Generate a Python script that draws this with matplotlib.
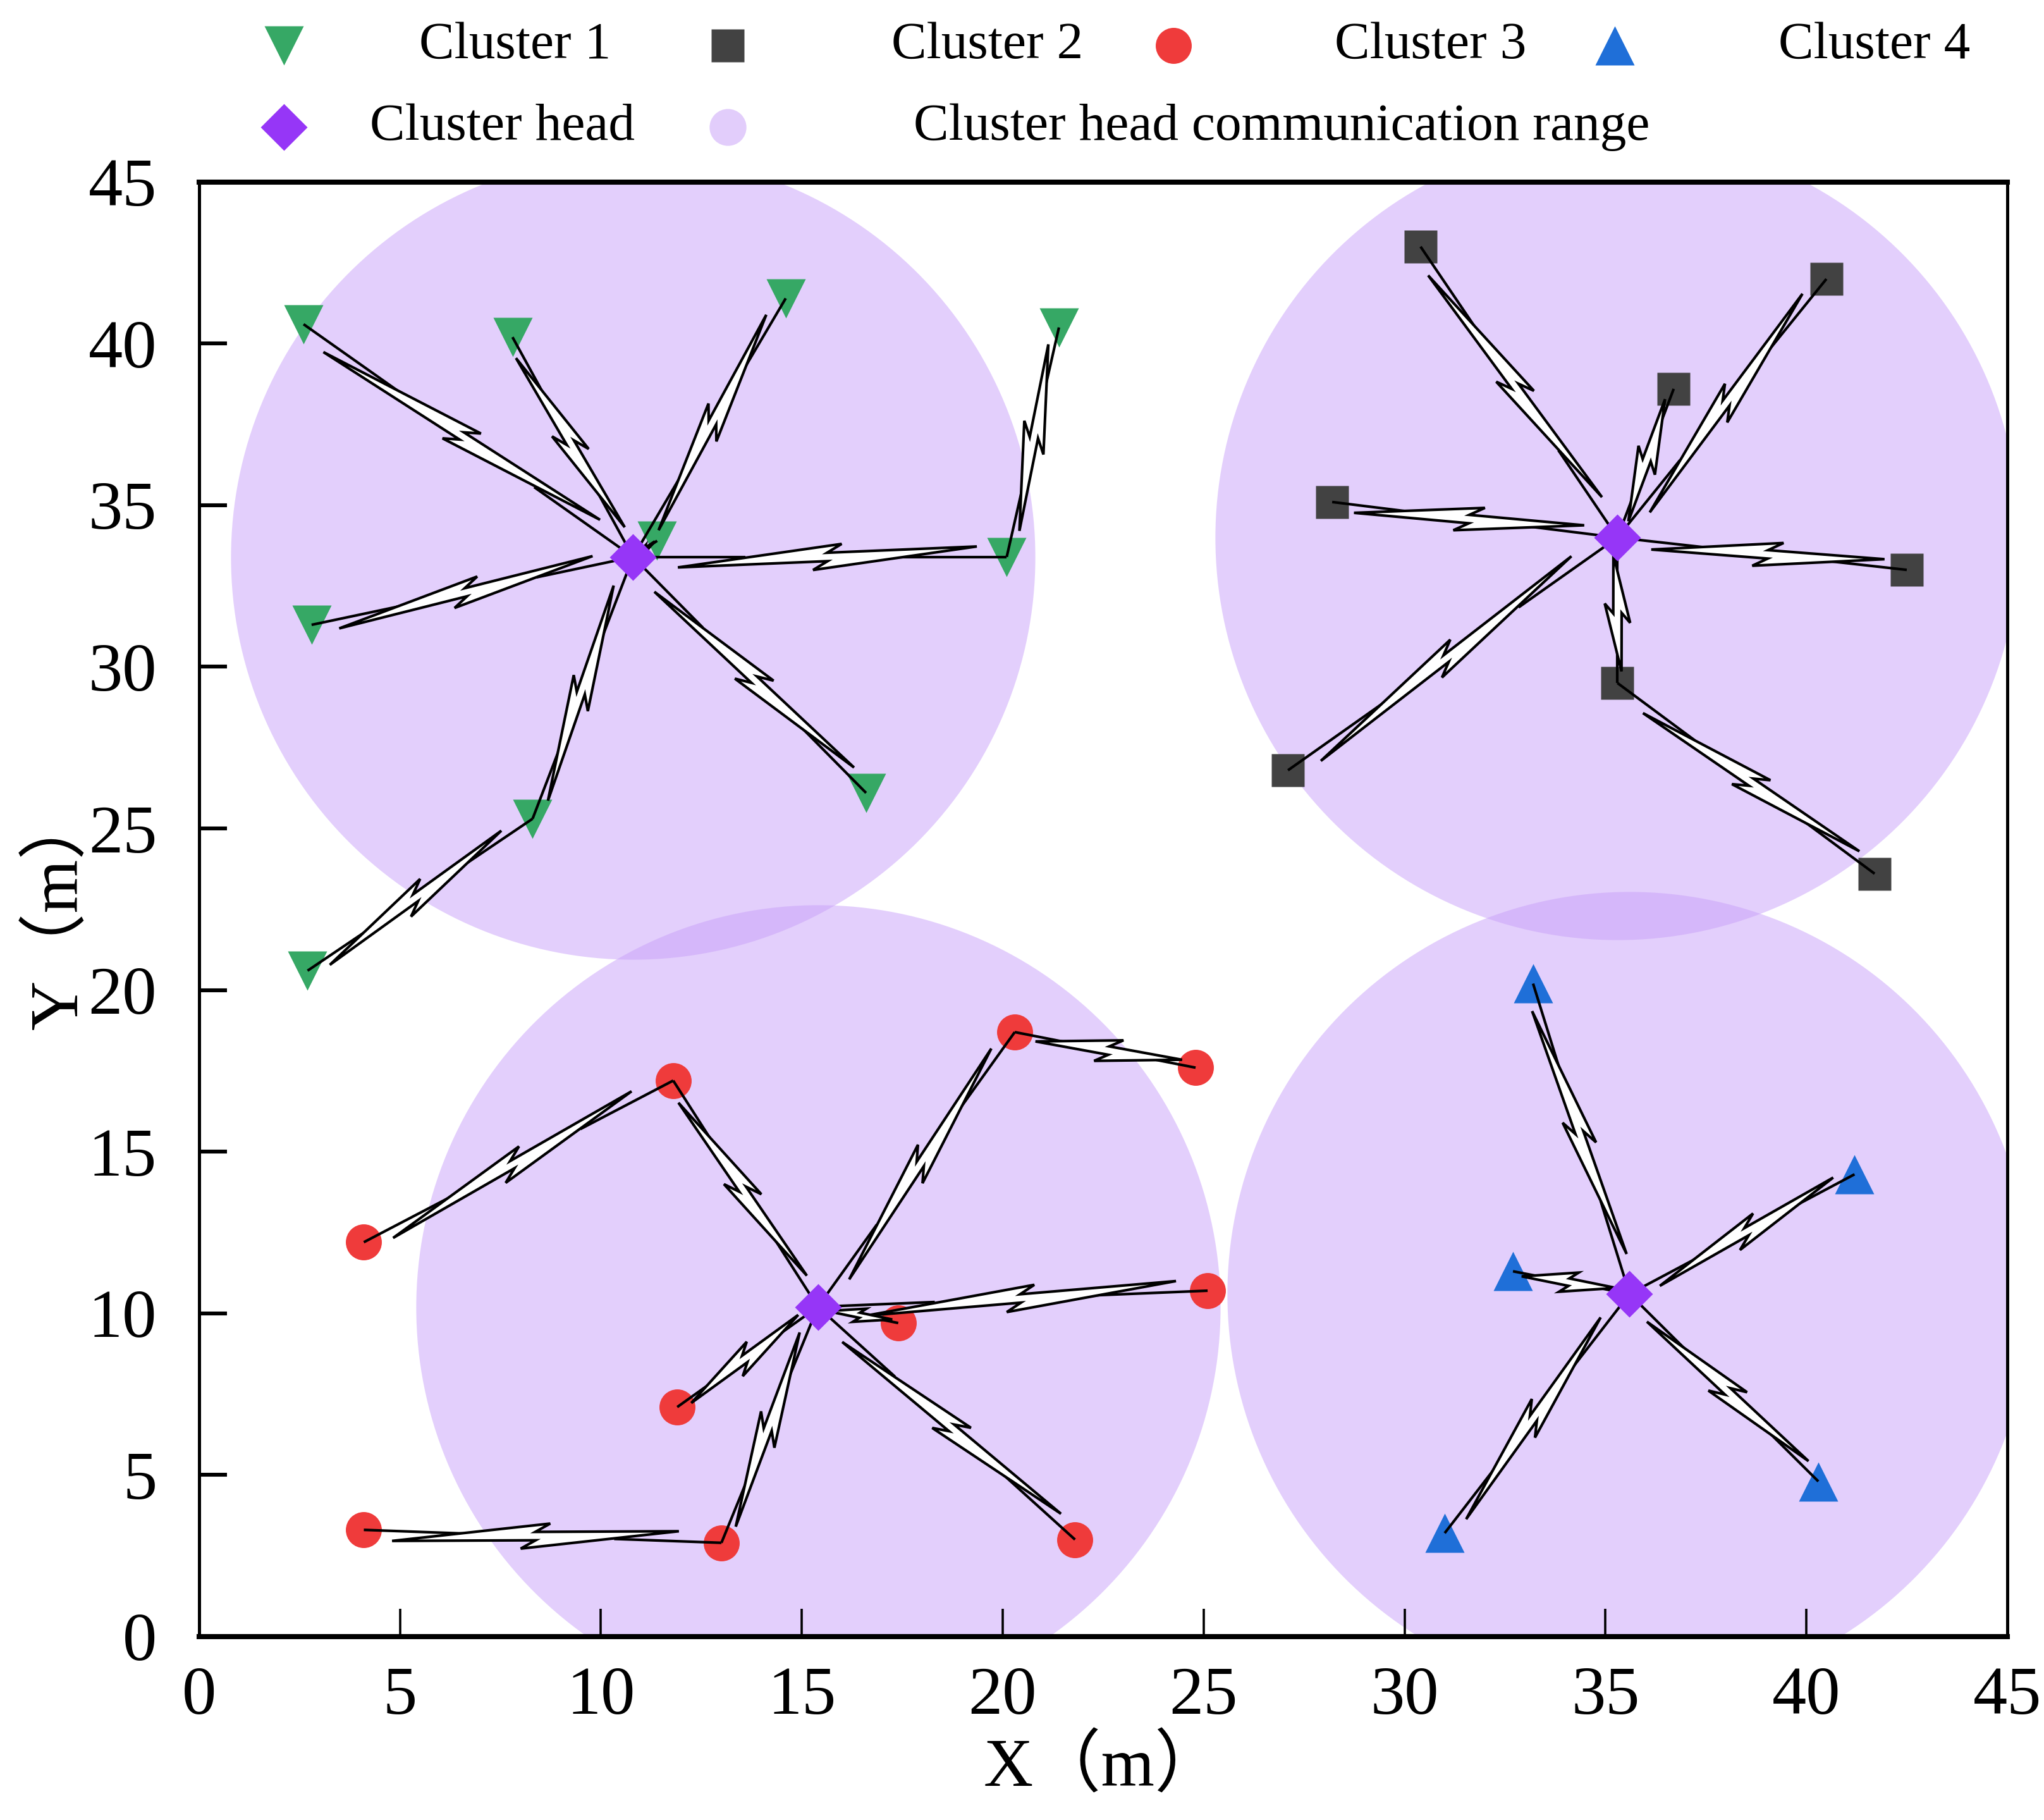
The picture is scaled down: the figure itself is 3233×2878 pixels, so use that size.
import matplotlib
matplotlib.use("Agg")
import matplotlib.pyplot as plt
import numpy as np
from matplotlib.patches import Polygon
from matplotlib.lines import Line2D

plt.rcParams['font.family'] = ['Liberation Serif', 'Noto Sans CJK SC', 'DejaVu Sans']

# member nodes of every cluster (metres)
c1_x = [2.6, 7.8, 14.6, 21.4, 11.4, 20.1, 2.8, 16.6, 8.3, 2.7]
c1_y = [40.6, 40.2, 41.4, 40.5, 33.9, 33.4, 31.3, 26.1, 25.3, 20.6]
c2_x = [30.4, 40.5, 36.7, 28.2, 42.5, 35.3, 27.1, 41.7]
c2_y = [43.0, 42.0, 38.6, 35.1, 33.0, 29.5, 26.8, 23.6]
c3_x = [20.3, 24.8, 11.8, 4.1, 25.1, 17.4, 11.9, 4.1, 13.0, 21.8]
c3_y = [18.7, 17.6, 17.2, 12.2, 10.7, 9.7, 7.1, 3.3, 2.9, 3.0]
c4_x = [33.2, 41.2, 32.7, 40.3, 31.0]
c4_y = [20.2, 14.3, 11.3, 4.8, 3.2]

# cluster heads
head_x = [10.8, 35.3, 15.4, 35.6]
head_y = [33.4, 34.0, 10.2, 10.6]

# next hop of each member: -1 -> own cluster head, else index of relay member
c1_hop = [-1, -1, -1, 5, -1, -1, -1, -1, -1, 8]
c2_hop = [-1, -1, -1, -1, -1, -1, -1, 5]
c3_hop = [-1, 0, -1, 2, -1, -1, -1, 8, -1, -1]
c4_hop = [-1, -1, -1, -1, -1]

x_ticks = [0, 5, 10, 15, 20, 25, 30, 35, 40, 45]
y_ticks = [0, 5, 10, 15, 20, 25, 30, 35, 40, 45]

GREEN = '#36a865'
GRAY = '#424242'
RED = '#ef3b3b'
BLUE = '#1f6fd8'
PURPLE = '#9636f7'
RANGE = '#c9a0fa'

DPI = 200
fig = plt.figure(figsize=(3233 / DPI, 2878 / DPI), dpi=DPI)
ax = fig.add_axes([0.0974, 0.1008, 0.8846, 0.7992])
ax.set_xlim(0, 45)
ax.set_ylim(0, 45)


def draw_link(ax, p, q):
    # straight line with a lightning bolt in the middle, built in pixel space
    to_px = ax.transData
    a = to_px.transform(p)
    b = to_px.transform(q)
    d = b - a
    L = np.hypot(*d)
    d = d / L
    n = np.array([-d[1], d[0]])
    back = to_px.inverted()
    for u0, u1 in [(0.0, 0.3), (0.7, 1.0)]:
        seg = back.transform(np.array([a + u0 * L * d, a + u1 * L * d]))
        ax.plot(seg[:, 0], seg[:, 1], color='black', lw=1.5, zorder=3,
                solid_capstyle='butt')
    s = a + 0.08 * L * d - 0.028 * L * n
    e = a + 0.88 * L * d + 0.028 * L * n
    bd = e - s
    Lb = np.hypot(*bd)
    bd = bd / Lb
    bn = np.array([-bd[1], bd[0]])
    h = min(19.0, 0.09 * L)
    j = min(0.09, 24.0 / Lb)
    local = [(0, 0), (0.5 + j, h), (0.5, 0.35 * h), (1, 0),
             (0.5 - j, -h), (0.5, -0.35 * h)]
    pts = np.array([s + u * Lb * bd + v * bn for u, v in local])
    poly = Polygon(back.transform(pts), closed=True, facecolor='white',
                   edgecolor='black', lw=1.5, joinstyle='miter', zorder=3)
    ax.add_patch(poly)


# communication range of every head
ax.plot(head_x, head_y, 'o', ms=458, color=RANGE, alpha=0.5, mec='none', zorder=1)

clusters = [
    (c1_x, c1_y, c1_hop, 'v', GREEN, 22.5),
    (c2_x, c2_y, c2_hop, 's', GRAY, 18.5),
    (c3_x, c3_y, c3_hop, 'o', RED, 20.5),
    (c4_x, c4_y, c4_hop, '^', BLUE, 22.5),
]
for k, (xs, ys, hops, mk, col, ms) in enumerate(clusters):
    ax.plot(xs, ys, mk, ms=ms, color=col, mec='none', zorder=2)
    for i in range(len(xs)):
        if hops[i] < 0:
            target = (head_x[k], head_y[k])
        else:
            target = (xs[hops[i]], ys[hops[i]])
        draw_link(ax, (xs[i], ys[i]), target)

ax.plot(head_x, head_y, 'D', ms=19, color=PURPLE, mec='none', zorder=4)

ax.set_xticks(x_ticks)
ax.set_yticks(y_ticks)
ax.tick_params(axis='both', direction='in', length=16, labelsize=39,
               top=False, right=False)
ax.tick_params(axis='x', width=1.3, pad=17)
ax.tick_params(axis='y', width=2.2, pad=24)
for side in ['top', 'bottom']:
    ax.spines[side].set_linewidth(2.9)
for side in ['left', 'right']:
    ax.spines[side].set_linewidth(1.8)
ax.set_xlabel('X（m）', fontsize=39, labelpad=4)
ax.set_ylabel('Y（m）', fontsize=39, labelpad=-2)

# legend drawn in figure coordinates
leg_items = [
    ('v', GREEN, 22.5, 'Cluster 1', 0.139, 0.205, 0.975),
    ('s', GRAY, 18.5, 'Cluster 2', 0.356, 0.436, 0.975),
    ('o', RED, 20.5, 'Cluster 3', 0.574, 0.653, 0.975),
    ('^', BLUE, 22.5, 'Cluster 4', 0.790, 0.870, 0.975),
    ('D', PURPLE, 19, 'Cluster head', 0.139, 0.181, 0.930),
    ('o', '#e2cdfb', 21, 'Cluster head communication range', 0.356, 0.447, 0.930),
]
for mk, col, ms, label, mx, tx, y in leg_items:
    fig.add_artist(Line2D([mx], [y], marker=mk, ms=ms, color=col, mec='none',
                          linestyle='none', transform=fig.transFigure))
    fig.text(tx, y, label, fontsize=30, va='center', ha='left')

fig.savefig('out.png', dpi=DPI)
